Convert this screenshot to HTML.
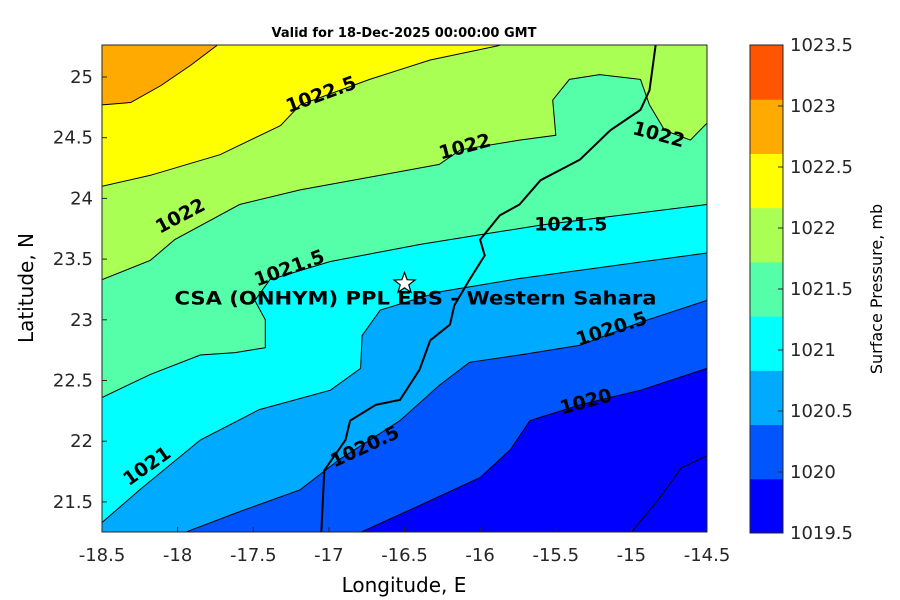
<!DOCTYPE html>
<html><head><meta charset="utf-8"><style>
html,body{margin:0;background:#fff;overflow:hidden;width:900px;height:600px}
svg{display:block}
svg text{font-family:"DejaVu Sans","Liberation Sans",sans-serif}
</style></head><body>
<svg id="chart" width="900" height="600" xmlns="http://www.w3.org/2000/svg">
<defs><clipPath id="plotclip"><rect x="102" y="45" width="605" height="487"/></clipPath></defs>
<text x="404" y="37" text-anchor="middle" font-size="13" font-weight="bold">Valid for 18-Dec-2025 00:00:00 GMT</text>
<g id="plot" clip-path="url(#plotclip)"></g>
<g id="overlay"></g>
<g id="axes"></g>
<text x="404" y="592" text-anchor="middle" font-size="20">Longitude, E</text>
<text transform="translate(33,288) rotate(-90)" text-anchor="middle" font-size="20">Latitude, N</text>
<g id="cbar"></g>
<text transform="translate(882,289) rotate(-90)" text-anchor="middle" font-size="16">Surface Pressure, mb</text>
</svg>
<script>
const lonTicks=[-18.5,-18,-17.5,-17,-16.5,-16,-15.5,-15,-14.5];
const latTicks=[21.5,22,22.5,23,23.5,24,24.5,25];
const levels=[1023,1022.5,1022,1021.5,1021,1020.5,1020];
const bandColors=['#ffaa00','#ffff00','#aaff55','#55ffaa','#00ffff','#00aaff','#0055ff','#0000ff'];
const cbLevels=[1019.5,1020,1020.5,1021,1021.5,1022,1022.5,1023,1023.5];
const cbColors=['#0000ff','#0055ff','#00aaff','#00ffff','#55ffaa','#aaff55','#ffff00','#ffaa00','#ff5500'];
const c1023=[[-18.5,24.77],[-18.31,24.79],[-18.11,24.93],[-17.91,25.10],[-17.74,25.26]];
const c10225=[[-18.5,24.10],[-18.18,24.19],[-17.72,24.36],[-17.32,24.60],[-17.19,24.77],[-16.73,24.98],[-16.33,25.14],[-15.87,25.26]];
const c1022=[[-18.5,23.33],[-18.18,23.49],[-18.02,23.66],[-17.59,23.95],[-17.19,24.07],[-16.66,24.19],[-16.27,24.28],[-16.13,24.40],[-15.74,24.48],[-15.50,24.52],[-15.52,24.81],[-15.41,24.98],[-15.21,25.02],[-14.94,24.98],[-14.88,24.77],[-14.78,24.56],[-14.61,24.48],[-14.5,24.62]];
const c10215=[[-18.5,22.36],[-18.18,22.55],[-17.85,22.71],[-17.62,22.73],[-17.42,22.77],[-17.42,23.00],[-17.49,23.16],[-17.39,23.33],[-16.99,23.48],[-16.40,23.62],[-16.0,23.70],[-15.60,23.78],[-15.08,23.86],[-14.5,23.95]];
const c1021=[[-18.5,21.33],[-18.25,21.60],[-17.85,22.01],[-17.46,22.26],[-16.99,22.42],[-16.79,22.60],[-16.78,22.87],[-16.66,23.08],[-16.27,23.23],[-15.74,23.34],[-15.21,23.43],[-14.5,23.55]];
const c10205=[[-17.95,21.25],[-17.59,21.42],[-17.19,21.60],[-16.93,21.85],[-16.53,22.17],[-16.27,22.46],[-16.07,22.65],[-15.74,22.71],[-15.34,22.79],[-14.94,22.98],[-14.5,23.16]];
const c1020=[[-16.79,21.25],[-16.40,21.47],[-16.0,21.70],[-15.80,21.93],[-15.67,22.17],[-15.34,22.30],[-14.94,22.42],[-14.5,22.60]];
const c10195=[[-15.0,21.25],[-14.82,21.52],[-14.67,21.78],[-14.5,21.88]];
const coast=[[-17.05,21.25],[-17.03,21.76],[-16.89,22.01],[-16.86,22.17],[-16.69,22.30],[-16.53,22.34],[-16.40,22.59],[-16.33,22.83],[-16.20,22.96],[-16.17,23.12],[-16.07,23.33],[-15.97,23.53],[-16.0,23.66],[-15.87,23.86],[-15.74,23.95],[-15.60,24.15],[-15.34,24.32],[-15.14,24.56],[-14.94,24.73],[-14.88,24.89],[-14.84,25.26]];
const labels=[["1022.5",-17.05,24.85,-20],["1022",-16.1,24.42,-15],["1022",-14.82,24.52,15],["1022",-17.98,23.85,-28],["1021.5",-17.26,23.42,-20],["1021.5",-15.4,23.78,0],["1021",-18.2,21.79,-35],["1020.5",-16.76,21.95,-25],["1020.5",-15.13,22.92,-18],["1020",-15.3,22.32,-15]];
const station=[-16.5,23.3];

const NS='http://www.w3.org/2000/svg';
const X=lon=>102+(lon+18.5)*151.25;
const Y=lat=>77+(25-lat)*121.4;
const CB=v=>533-(v-1019.5)*122;
function mk(tag,attrs,parent){const e=document.createElementNS(NS,tag);for(const k in attrs)e.setAttribute(k,attrs[k]);parent.appendChild(e);return e;}
const plot=document.getElementById('plot');
const bg=mk('rect',{x:102,y:45,width:605,height:487,fill:bandColors[0]},plot);


const contours=[c1023,c10225,c1022,c10215,c1021,c10205,c1020];
function ptsStr(arr){return arr.map(p=>X(p[0]).toFixed(1)+','+Y(p[1]).toFixed(1)).join(' ');}
contours.forEach((c,i)=>{
  const poly=c.concat([[-13,26],[-13,20],[-19,20]]);
  const p=mk('polygon',{points:ptsStr(poly),fill:bandColors[i+1]},plot);
  
  
});
contours.concat([c10195]).forEach((c,i)=>{
  const l=mk('polyline',{points:ptsStr(c),fill:'none',stroke:'#000','stroke-width':1},plot);
  
  
});
const cl=mk('polyline',{points:ptsStr(coast),fill:'none',stroke:'#000','stroke-width':2},plot);


labels.forEach(lb=>{
  const t=mk('text',{x:X(lb[1]),y:Y(lb[2]),'font-size':19,'font-weight':'bold','text-anchor':'middle','dominant-baseline':'middle',transform:`rotate(${lb[3]} ${X(lb[1])} ${Y(lb[2])})`},plot);
  t.textContent=lb[0];
  
  
});
const ov=document.getElementById('overlay');
const sx=X(station[0]),sy=Y(station[1]);
let sp=[];for(let k=0;k<10;k++){const r=k%2?4.5:11,a=-Math.PI/2+k*Math.PI/5;sp.push((sx+r*Math.cos(a)).toFixed(1)+','+(sy+r*Math.sin(a)).toFixed(1));}
const star=mk('polygon',{points:sp.join(' '),fill:'#fff',stroke:'#000','stroke-width':1.2},ov);


const st=mk('text',{x:sx+11,y:sy+21,'font-size':19,'font-weight':'bold','text-anchor':'middle',textLength:482,lengthAdjust:'spacingAndGlyphs'},ov);
st.textContent='CSA (ONHYM) PPL EBS - Western Sahara';


const ax=document.getElementById('axes');
const fr=mk('rect',{x:102,y:45,width:605,height:487,fill:'none',stroke:'#262626','stroke-width':1},ax);


lonTicks.forEach(v=>{
  mk('line',{x1:X(v),x2:X(v),y1:532,y2:527,stroke:'#262626'},ax);
  const t=mk('text',{x:X(v),y:561,'font-size':18,'text-anchor':'middle',fill:'#262626'},ax);
  t.textContent=v;
  
  
});
latTicks.forEach(v=>{
  mk('line',{x1:102,x2:107,y1:Y(v),y2:Y(v),stroke:'#262626'},ax);
  const t=mk('text',{x:93,y:Y(v)+6,'font-size':18,'text-anchor':'end',fill:'#262626'},ax);
  t.textContent=v;
  
  
});
const cb=document.getElementById('cbar');
const bandH=488/cbColors.length;
cbColors.forEach((c,i)=>{
  const r=mk('rect',{x:750,y:533-(i+1)*bandH,width:33,height:bandH+0.5,fill:c},cb);
  
  
});
mk('rect',{x:750,y:45,width:33,height:488,fill:'none',stroke:'#262626'},cb);
cbLevels.forEach(v=>{
  mk('line',{x1:778,x2:783,y1:CB(v),y2:CB(v),stroke:'#262626'},cb);
  const t=mk('text',{x:790,y:CB(v)+6,'font-size':18,fill:'#262626'},cb);
  t.textContent=v;
  
  
});
</script>
</body></html>
